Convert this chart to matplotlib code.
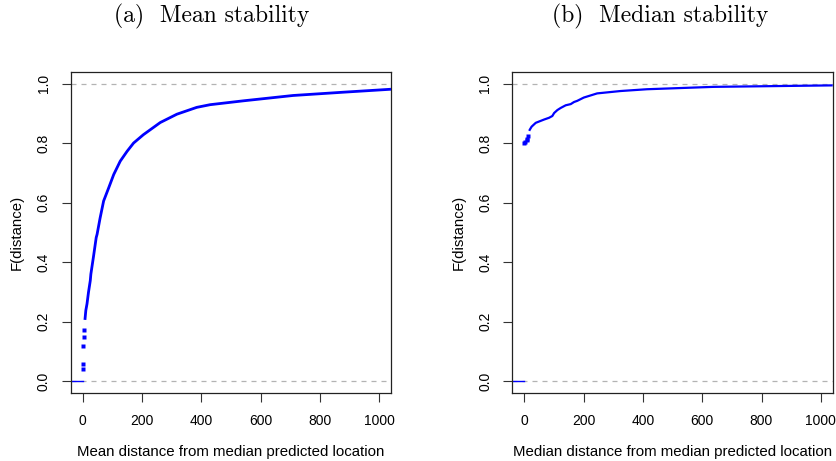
import matplotlib
matplotlib.use("Agg")
import matplotlib.pyplot as plt

# ---- data (ECDF curves) ----
mean_dist_sparse = [0.5, 1.0, 3.0, 3.5, 5.5]
mean_F_sparse = [0.042, 0.057, 0.117, 0.148, 0.173]
mean_dist = [8, 11, 15, 20, 26, 28, 37, 46, 49, 59, 71, 88, 105, 127, 150, 172,
             205, 262, 318, 385, 430, 542, 710, 879, 1040]
mean_F = [0.206, 0.238, 0.26, 0.299, 0.338, 0.36, 0.42, 0.483, 0.494, 0.548,
          0.606, 0.650, 0.695, 0.740, 0.773, 0.801, 0.829, 0.870, 0.898, 0.921,
          0.930, 0.943, 0.961, 0.972, 0.982]

median_dist_sparse = [0, 4, 8, 11, 13]
median_F_sparse = [0.80, 0.805, 0.81, 0.816, 0.824]
median_dist = [17, 19, 25, 39, 67, 84, 95, 101, 112, 123, 140, 157, 168, 179,
               201, 246, 325, 414, 638, 1040]
median_F = [0.842, 0.846, 0.856, 0.869, 0.880, 0.886, 0.892, 0.902, 0.912,
            0.919, 0.928, 0.932, 0.939, 0.943, 0.954, 0.968, 0.976, 0.982,
            0.990, 0.995]

titles = ["(a)  Mean stability", "(b)  Median stability"]
xlabels = ["Mean distance from median predicted location",
           "Median distance from median predicted location"]
ylabel = "F(distance)"
xticks = [0, 200, 400, 600, 800, 1000]
yticks = [0.0, 0.2, 0.4, 0.6, 0.8, 1.0]

BLUE = "#0000FF"
GRAY = "#B3B3B3"
SANS = ["Liberation Sans", "DejaVu Sans"]

fig = plt.figure(figsize=(8.36, 4.61), dpi=100)
W, H = 836, 461

panels = [
    (70.7, 391.0, mean_dist_sparse, mean_F_sparse, mean_dist, mean_F, 212, 2.0),
    (512.3, 832.7, median_dist_sparse, median_F_sparse, median_dist, median_F, 660, 1.6),
]
top_px, bot_px = 72.0, 393.0

for i, (l, r, xs, fs, xd, fd, tcx, lw) in enumerate(panels):
    ax = fig.add_axes([l / W, 1 - bot_px / H, (r - l) / W, (bot_px - top_px) / H])
    ax.set_xlim(-40, 1040)
    ax.set_ylim(-0.04, 1.04)
    ax.axhline(0, color=GRAY, ls=(0, (4, 4)), lw=0.9, zorder=1)
    ax.axhline(1, color=GRAY, ls=(0, (4, 4)), lw=0.9, zorder=1)
    # leading horizontal segment of the ECDF at F=0
    ax.plot([-40, xs[0]], [0, 0], color=BLUE, lw=1.0, zorder=2)
    ax.plot(xs, fs, ls="none", marker="s", ms=2.2, color=BLUE, mec="none", zorder=3)
    ax.plot(xd, fd, color=BLUE, lw=lw, solid_capstyle="butt", zorder=3)
    ax.set_xticks(xticks)
    ax.set_xticklabels([str(v) for v in xticks], fontfamily=SANS, fontsize=10)
    ax.set_yticks(yticks)
    ax.set_yticklabels([f"{v:.1f}" for v in yticks], fontfamily=SANS, fontsize=10,
                       rotation=90, va="center")
    ax.tick_params(axis="both", direction="out", length=6.5, width=0.8, color="#333333")
    ax.tick_params(axis="x", pad=8.5)
    ax.tick_params(axis="y", pad=8)
    for sp in ax.spines.values():
        sp.set_linewidth(0.9)
        sp.set_color("#222222")
    ax.set_xlabel(xlabels[i], fontfamily=SANS, fontsize=10.8, labelpad=12)
    ax.set_ylabel(ylabel, fontfamily=SANS, fontsize=10.8, labelpad=9)
    fig.text(tcx / W, 1 - 22 / H, titles[i], ha="center", va="baseline",
             fontfamily="cmr10", fontsize=17)

fig.savefig("out.png", dpi=100)
